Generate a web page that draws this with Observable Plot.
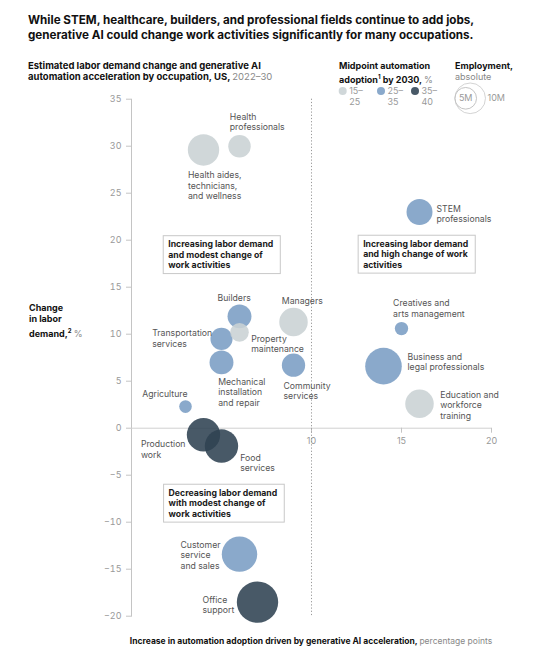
<!DOCTYPE html>
<html><head><meta charset="utf-8">
<script src="https://cdn.jsdelivr.net/npm/d3@7"></script>
<script src="https://cdn.jsdelivr.net/npm/@observablehq/plot@0.6"></script>
<style>
body{margin:0;background:#fff;font-family:Inter,"Noto Sans",sans-serif;color:#111;}
#page{position:relative;width:554px;height:656px;overflow:hidden;}
.abs{position:absolute;white-space:nowrap;}
.title{left:28px;top:13px;font-size:11.65px;font-weight:700;line-height:15px;color:#111;}
.sub{font-size:9.5px;font-weight:700;line-height:11.7px;color:#111;}
.lt{font-weight:400;color:#888;}
#chart{position:absolute;left:0;top:88px;}
#legend{position:absolute;left:0;top:0;}
</style></head><body><div id="page">
<div class="abs title">While STEM, healthcare, builders, and professional fields continue to add jobs,<br>generative AI could change work activities significantly for many occupations.</div>
<div class="abs sub" style="left:28px;top:59.5px;">Estimated labor demand change and generative AI<br>automation acceleration by occupation, US, <span class="lt">2022–30</span></div>
<div class="abs sub" style="left:339px;top:59.5px;font-size:9px;">Midpoint automation<br>adoption<sup style="font-size:6px">1</sup> by 2030, <span class="lt">%</span></div>
<div class="abs sub" style="left:455px;top:59.5px;font-size:9px;">Employment,<br><span class="lt">absolute</span></div>
<div id="chart"></div>
<div class="abs sub" style="left:29px;top:301.5px;font-size:9px;">Change<br>in labor<br>demand,<sup style="font-size:6px">2</sup> <span class="lt">%</span></div>
<div class="abs sub" style="left:0;width:622px;text-align:center;top:636px;font-size:8.5px;">Increase in automation adoption driven by generative AI acceleration, <span class="lt">percentage points</span></div>
</div>
<script>
// ---- data ----
const occupations = [
  "Health aides,\ntechnicians,\nand wellness",
  "Health\nprofessionals",
  "STEM\nprofessionals",
  "Creatives and\narts management",
  "Business and\nlegal professionals",
  "Education and\nworkforce\ntraining",
  "Managers",
  "Community\nservices",
  "Property\nmaintenance",
  "Builders",
  "Transportation\nservices",
  "Mechanical\ninstallation\nand repair",
  "Agriculture",
  "Production\nwork",
  "Food\nservices",
  "Customer\nservice\nand sales",
  "Office\nsupport"
];
const automationIncrease = [4.0, 6.0, 16.0, 15.0, 14.0, 16.0, 9.0, 9.0, 6.0, 6.0, 5.0, 5.0, 3.0, 4.0, 5.0, 6.0, 7.0];
const demandChange      = [29.6, 30.0, 23.0, 10.6, 6.6, 2.6, 11.3, 6.7, 10.2, 11.9, 9.5, 7.0, 2.3, -0.7, -1.9, -13.4, -18.5];
const employmentM       = [10.5, 5.4, 7.2, 1.9, 14.3, 8.7, 8.7, 5.8, 3.7, 6.1, 5.2, 6.1, 1.7, 11.9, 11.9, 13.4, 18.3];
const adoptionBand      = ["15–25","15–25","25–35","25–35","25–35","15–25","15–25","25–35","15–25","25–35","25–35","25–35","25–35","35–40","35–40","25–35","35–40"];
const bands = ["15–25","25–35","35–40"];
const sizeLegend = [5, 10];
const yTicks = [-20,-15,-10,-5,0,5,10,15,20,25,30,35];
const xTicks = [10,15,20];
const notes = [
  {text:"Increasing labor demand\nand modest change of\nwork activities", x:2.04, y:18.5},
  {text:"Increasing labor demand\nand high change of work\nactivities", x:12.87, y:18.55},
  {text:"Decreasing labor demand\nwith modest change of\nwork activities", x:2.06, y:-7.94}
];

// ---- layout / style ----
const bandColors = ["#cad1d4","#7a9dc4","#2f4252"];
const labelLayout = [
  {dx:-15.6,dy:35.3,a:"start"},{dx:-9.7,dy:-24.8,a:"start"},{dx:17,dy:1.8,a:"start"},
  {dx:-8.4,dy:-20.2,a:"start"},{dx:24,dy:-4.5,a:"start"},{dx:20.7,dy:1,a:"start"},
  {dx:-11.7,dy:-21.7,a:"start"},{dx:-10,dy:25.7,a:"start"},{dx:11.7,dy:11.6,a:"start"},
  {dx:-22,dy:-18.3,a:"start"},{dx:-69.3,dy:-0.8,a:"start"},{dx:-3.3,dy:29.6,a:"start"},
  {dx:2,dy:-12.7,a:"end"},{dx:-62.6,dy:14.5,a:"start"},{dx:18.7,dy:16.5,a:"start"},
  {dx:-59,dy:0.7,a:"start"},{dx:-55,dy:2.6,a:"start"}
];

const rows = occupations.map((name,i)=>({name, x:automationIncrease[i], y:demandChange[i], emp:employmentM[i], band:adoptionBand[i]}));

const labelMarks = rows.map((d,i)=>Plot.text([d], {x:"x", y:"y", text:"name", dx:labelLayout[i].dx, dy:labelLayout[i].dy,
  textAnchor:labelLayout[i].a, lineAnchor:"middle", lineHeight:1.2, fill:"#555", fontSize:8.7}));

const chart = Plot.plot({
  width:554, height:540,
  marginLeft:131, marginRight:63, marginTop:10.7, marginBottom:12.3,
  x:{domain:[0,20], axis:null}, y:{domain:[-20,35]},
  r:{type:"sqrt", domain:[0,10], range:[0,15.3]},
  color:{domain:bands, range:bandColors},
  style:{fontFamily:"Inter, sans-serif", fontSize:"9px", background:"transparent", overflow:"visible"},
  marks:[
    Plot.frame({anchor:"left", stroke:"#c4c4c4"}),
    Plot.ruleY([0], {stroke:"#d0d0d0"}),
    Plot.ruleX(xTicks, {x:d=>d, y1:()=>0, y2:()=>0, insetBottom:-5, stroke:"#c4c4c4"}),
    Plot.ruleX([10], {stroke:"#999", strokeDasharray:"1.2,2"}),
    Plot.axisY({ticks:yTicks, tickSize:5, tickPadding:5, stroke:"#c4c4c4", fill:"#999", label:null, fontSize:9}),
    Plot.text(xTicks, {x:d=>d, y:()=>0, dy:12.5, text:d=>String(d), fill:"#999", fontSize:9}),
    Plot.dot(rows, {x:"x", y:"y", r:"emp", fill:"band", fillOpacity:0.88}),
    ...labelMarks,
    Plot.text(notes, {x:"x", y:"y", text:"text", textAnchor:"start", lineAnchor:"middle", lineHeight:1.2,
      fontWeight:700, fill:"#1a1a1a", fontSize:8.7, className:"qnote"})
  ]
});
document.getElementById("chart").append(chart);

// boxes behind the quadrant notes
const NS = "http://www.w3.org/2000/svg";
chart.querySelectorAll(".qnote text").forEach(t=>{
  const b = t.getBBox();
  const r = document.createElementNS(NS,"rect");
  r.setAttribute("x", b.x-5); r.setAttribute("y", b.y-3.5);
  r.setAttribute("width", b.width+12); r.setAttribute("height", b.height+7);
  r.setAttribute("fill","#fff"); r.setAttribute("stroke","#c8c8c8"); r.setAttribute("stroke-width",1);
  if (t.getAttribute("transform")) r.setAttribute("transform", t.getAttribute("transform"));
  t.parentNode.insertBefore(r,t);
});

// legends
const rScale = chart.scale("r");
const colorScale = chart.scale("color");
const lg = d3.select("#page").append("svg").attr("id","legend").attr("width",554).attr("height",130)
  .style("font-family","Inter, sans-serif").style("font-size","9px");
const swX = [342.7, 381, 415];
bands.forEach((b,i)=>{
  const [lo,hi] = b.split("–");
  lg.append("circle").attr("cx",swX[i]).attr("cy",91).attr("r",4).attr("fill",colorScale.apply(b)).attr("fill-opacity",0.88);
  lg.append("text").attr("x",swX[i]+6.5).attr("y",91).attr("dy","0.35em").attr("fill","#999").text(lo+"–");
  lg.append("text").attr("x",swX[i]+6.5).attr("y",101.7).attr("dy","0.35em").attr("fill","#999").text(hi);
});
const r5 = rScale.apply(sizeLegend[0]), r10 = rScale.apply(sizeLegend[1]);
const c5 = 465.7, cy = 98.3;
lg.append("circle").attr("cx",c5-r5+r10).attr("cy",cy).attr("r",r10).attr("fill","none").attr("stroke","#d4d4d4");
lg.append("circle").attr("cx",c5).attr("cy",cy).attr("r",r5).attr("fill","none").attr("stroke","#c4c4c4");
lg.append("text").attr("x",c5).attr("y",cy).attr("dy","0.35em").attr("text-anchor","middle").attr("fill","#999").text(sizeLegend[0]+"M");
lg.append("text").attr("x",c5-r5+2*r10+2).attr("y",cy).attr("dy","0.35em").attr("fill","#999").text(sizeLegend[1]+"M");
</script>
</body></html>
